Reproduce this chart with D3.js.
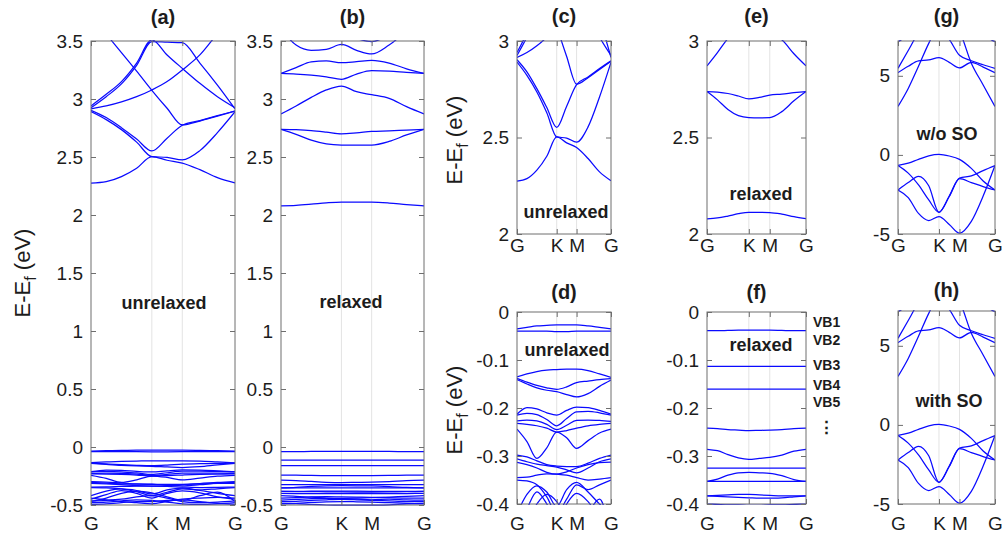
<!DOCTYPE html>
<html>
<head>
<meta charset="utf-8">
<script src="https://cdn.jsdelivr.net/npm/d3@7"></script>
<style>
  body { margin: 0; background: #fff; }
  svg { display: block; }
  text { font-family: "Liberation Sans", Arial, Helvetica, sans-serif; }
</style>
</head>
<body>
<svg id="fig" width="1004" height="540"></svg>
<script>
// k-path G-K-M-G (path length in units of 2pi/a); every band is sampled on this grid
const kPath = [0, 0.333, 0.667, 1.0, 1.333, 1.667, 2.0, 2.385, 2.770, 3.155];
const kTickPos = [0, 1.333, 2.0, 3.155];
const kTickLabels = ["G", "K", "M", "G"];

// unrelaxed structure: conduction bands (eV)
const unrelaxedCB = [
  [2.274, 2.287, 2.331, 2.403, 2.503, 2.472, 2.448, 2.391, 2.322, 2.276],
  [2.891, 2.822, 2.736, 2.628, 2.503, 2.497, 2.476, 2.555, 2.710, 2.890],
  [2.903, 2.840, 2.753, 2.655, 2.552, 2.662, 2.774, 2.814, 2.857, 2.897],
  [3.720, 3.560, 3.400, 3.240, 3.075, 2.920, 2.776, 2.810, 2.853, 2.895],
  [2.915, 2.940, 2.975, 3.020, 3.078, 3.150, 3.250, 3.380, 3.560, 3.700],
  [2.925, 3.020, 3.130, 3.290, 3.495, 3.490, 3.485, 3.310, 3.120, 2.915],
  [2.940, 3.040, 3.150, 3.310, 3.510, 3.380, 3.264, 3.135, 3.020, 2.925]
];
// unrelaxed structure: valence bands (eV)
const unrelaxedVB = [
  [-0.035, -0.032, -0.029, -0.028, -0.027, -0.027, -0.027, -0.029, -0.032, -0.035],
  [-0.040, -0.040, -0.040, -0.040, -0.041, -0.041, -0.040, -0.040, -0.040, -0.040],
  [-0.135, -0.129, -0.124, -0.121, -0.120, -0.119, -0.119, -0.122, -0.129, -0.136],
  [-0.138, -0.146, -0.153, -0.158, -0.161, -0.156, -0.147, -0.144, -0.141, -0.139],
  [-0.141, -0.150, -0.158, -0.163, -0.166, -0.172, -0.177, -0.170, -0.155, -0.142],
  [-0.213, -0.199, -0.202, -0.210, -0.215, -0.205, -0.198, -0.199, -0.205, -0.213],
  [-0.215, -0.211, -0.214, -0.224, -0.237, -0.222, -0.208, -0.207, -0.210, -0.215],
  [-0.227, -0.225, -0.227, -0.234, -0.245, -0.236, -0.226, -0.225, -0.226, -0.228],
  [-0.232, -0.234, -0.237, -0.242, -0.250, -0.247, -0.242, -0.237, -0.234, -0.232],
  [-0.244, -0.270, -0.305, -0.283, -0.250, -0.262, -0.284, -0.268, -0.252, -0.244],
  [-0.298, -0.302, -0.310, -0.318, -0.321, -0.322, -0.322, -0.315, -0.305, -0.298],
  [-0.306, -0.312, -0.317, -0.320, -0.323, -0.329, -0.335, -0.325, -0.312, -0.306],
  [-0.313, -0.318, -0.325, -0.334, -0.338, -0.333, -0.325, -0.318, -0.314, -0.313],
  [-0.345, -0.344, -0.340, -0.337, -0.338, -0.340, -0.345, -0.350, -0.348, -0.345],
  [-0.350, -0.352, -0.360, -0.385, -0.420, -0.390, -0.360, -0.370, -0.360, -0.350],
  [-0.420, -0.380, -0.362, -0.375, -0.405, -0.370, -0.355, -0.375, -0.400, -0.420],
  [-0.450, -0.410, -0.375, -0.400, -0.440, -0.400, -0.378, -0.395, -0.430, -0.450],
  [-0.470, -0.440, -0.400, -0.380, -0.395, -0.430, -0.460, -0.420, -0.390, -0.470],
  [-0.440, -0.455, -0.470, -0.480, -0.490, -0.470, -0.450, -0.440, -0.435, -0.440],
  [-0.465, -0.460, -0.450, -0.430, -0.420, -0.440, -0.470, -0.480, -0.475, -0.465],
  [-0.480, -0.475, -0.465, -0.455, -0.460, -0.475, -0.490, -0.495, -0.490, -0.480],
  [-0.495, -0.490, -0.480, -0.470, -0.470, -0.460, -0.455, -0.470, -0.485, -0.495]
];

// relaxed structure: conduction bands (eV)
const relaxedCB = [
  [2.079, 2.083, 2.093, 2.105, 2.112, 2.112, 2.111, 2.103, 2.090, 2.079],
  [2.738, 2.735, 2.728, 2.715, 2.700, 2.708, 2.720, 2.725, 2.732, 2.738],
  [2.738, 2.695, 2.645, 2.613, 2.603, 2.602, 2.603, 2.634, 2.690, 2.738],
  [2.871, 2.940, 3.014, 3.078, 3.112, 3.063, 3.037, 3.006, 2.934, 2.871],
  [3.221, 3.215, 3.205, 3.190, 3.170, 3.215, 3.244, 3.240, 3.230, 3.221],
  [3.221, 3.270, 3.320, 3.328, 3.313, 3.322, 3.333, 3.310, 3.260, 3.221],
  [3.600, 3.465, 3.420, 3.428, 3.470, 3.420, 3.388, 3.465, 3.580, 3.650],
  [3.800, 3.700, 3.650, 3.600, 3.560, 3.520, 3.495, 3.550, 3.650, 3.750]
];
// relaxed structure: valence bands (eV)
const relaxedVB = [
  [-0.039, -0.039, -0.0385, -0.038, -0.038, -0.038, -0.038, -0.0385, -0.039, -0.039],
  [-0.1135, -0.1135, -0.1135, -0.1135, -0.1135, -0.1135, -0.1135, -0.1135, -0.1135, -0.1135],
  [-0.1605, -0.1605, -0.1605, -0.1605, -0.1605, -0.1605, -0.1605, -0.1605, -0.1605, -0.1605],
  [-0.242, -0.243, -0.245, -0.246, -0.247, -0.2465, -0.246, -0.245, -0.243, -0.242],
  [-0.286, -0.289, -0.297, -0.304, -0.307, -0.305, -0.303, -0.298, -0.290, -0.286],
  [-0.325, -0.325, -0.325, -0.325, -0.325, -0.325, -0.325, -0.325, -0.325, -0.325],
  [-0.353, -0.348, -0.340, -0.335, -0.334, -0.335, -0.336, -0.341, -0.349, -0.353],
  [-0.353, -0.353, -0.353, -0.353, -0.353, -0.353, -0.353, -0.353, -0.353, -0.353],
  [-0.383, -0.382, -0.381, -0.380, -0.380, -0.381, -0.382, -0.383, -0.383, -0.383],
  [-0.383, -0.384, -0.385, -0.386, -0.387, -0.388, -0.388, -0.387, -0.385, -0.383],
  [-0.400, -0.401, -0.402, -0.402, -0.403, -0.403, -0.402, -0.402, -0.401, -0.400],
  [-0.420, -0.425, -0.433, -0.440, -0.442, -0.440, -0.437, -0.432, -0.425, -0.420],
  [-0.440, -0.436, -0.430, -0.428, -0.430, -0.432, -0.434, -0.437, -0.440, -0.440],
  [-0.457, -0.452, -0.445, -0.442, -0.445, -0.450, -0.455, -0.450, -0.455, -0.457],
  [-0.471, -0.468, -0.460, -0.455, -0.452, -0.455, -0.460, -0.465, -0.470, -0.471],
  [-0.486, -0.488, -0.495, -0.500, -0.502, -0.502, -0.502, -0.498, -0.490, -0.486],
  [-0.490, -0.485, -0.478, -0.472, -0.470, -0.472, -0.475, -0.480, -0.485, -0.490]
];

// wide-window bands without spin-orbit coupling (eV)
const bandsNoSO = [
  [3.06, 4.20, 5.60, 7.05, 8.20, 8.40, 7.80, 5.80, 4.42, 3.06],
  [5.20, 5.60, 5.95, 6.00, 6.15, 5.85, 5.50, 5.85, 5.55, 5.20],
  [5.47, 6.60, 7.70, 8.20, 8.00, 7.30, 6.30, 5.95, 5.70, 5.47],
  [7.15, 7.60, 8.30, 8.60, 8.60, 8.60, 8.60, 8.30, 7.60, 7.15],
  [-0.67, -0.52, -0.28, -0.06, 0.03, -0.07, -0.28, -0.85, -1.65, -2.22],
  [-0.67, -1.15, -1.90, -2.85, -3.63, -2.63, -1.47, -1.33, -0.99, -0.67],
  [-2.22, -1.75, -1.35, -1.95, -3.63, -2.60, -1.50, -1.75, -2.00, -2.22],
  [-2.22, -2.70, -3.70, -4.15, -3.90, -4.40, -4.95, -4.20, -2.60, -0.67]
];
// wide-window bands with spin-orbit coupling (eV)
const bandsSO = [
  [3.06, 4.20, 5.60, 7.05, 8.20, 8.40, 7.80, 5.80, 4.42, 3.06],
  [5.20, 5.60, 5.95, 6.00, 6.15, 5.85, 5.50, 5.85, 5.55, 5.20],
  [5.47, 6.60, 7.70, 8.20, 8.00, 7.30, 6.30, 5.95, 5.70, 5.47],
  [7.15, 7.60, 8.30, 8.60, 8.60, 8.60, 8.60, 8.30, 7.60, 7.15],
  [-0.67, -0.52, -0.28, -0.06, 0.03, -0.07, -0.28, -0.85, -1.65, -2.22],
  [-0.67, -1.15, -1.90, -2.85, -3.63, -2.63, -1.47, -1.33, -0.99, -0.67],
  [-2.22, -1.75, -1.35, -1.95, -3.63, -2.60, -1.50, -1.75, -2.00, -2.22],
  [-2.22, -2.70, -3.70, -4.15, -3.90, -4.40, -4.95, -4.20, -2.60, -0.67]
];

// energy tick values per window
const ticksWide = [-0.5, 0, 0.5, 1, 1.5, 2, 2.5, 3, 3.5];
const ticksCB = [2, 2.5, 3];
const ticksVB = [-0.4, -0.3, -0.2, -0.1, 0];
const ticksSO = [-5, 0, 5];

const unrelaxedAll = unrelaxedCB.concat(unrelaxedVB);
const relaxedAll = relaxedCB.concat(relaxedVB);

const panels = [
  { id: "a", x0: 91, x1: 235, y0: 41, y1: 505, dom: [-0.5, 3.5], ticks: ticksWide, bands: unrelaxedAll, titleY: 24, labY: 530 },
  { id: "b", x0: 281, x1: 424, y0: 41, y1: 505, dom: [-0.5, 3.5], ticks: ticksWide, bands: relaxedAll, titleY: 24, labY: 530 },
  { id: "c", x0: 517, x1: 611, y0: 41, y1: 234, dom: [2, 3], ticks: ticksCB, bands: unrelaxedCB, titleY: 23, labY: 252 },
  { id: "d", x0: 517, x1: 611, y0: 312, y1: 504, dom: [-0.4, 0], ticks: ticksVB, bands: unrelaxedVB, titleY: 299, labY: 530 },
  { id: "e", x0: 707, x1: 806, y0: 41, y1: 234, dom: [2, 3], ticks: ticksCB, bands: relaxedCB, titleY: 23, labY: 252 },
  { id: "f", x0: 707, x1: 806, y0: 312, y1: 504, dom: [-0.4, 0], ticks: ticksVB, bands: relaxedVB, titleY: 299, labY: 530 },
  { id: "g", x0: 898, x1: 995, y0: 41, y1: 234, dom: [-5, 7.2], ticks: ticksSO, bands: bandsNoSO, titleY: 23, labY: 252 },
  { id: "h", x0: 898, x1: 995, y0: 311, y1: 504, dom: [-5, 7.2], ticks: ticksSO, bands: bandsSO, titleY: 297, labY: 530 }
];

const svg = d3.select("#fig");
const BOX = "#6e6e6e";
const INK = "#1c1c1c";
const BAND = "#0a0aff";
const defs = svg.append("defs");

function drawPanel(p) {
  const x = d3.scaleLinear().domain([kPath[0], kPath[kPath.length - 1]]).range([p.x0, p.x1]);
  const y = d3.scaleLinear().domain(p.dom).range([p.y1, p.y0]);
  const g = svg.append("g").attr("class", "panel-" + p.id);

  defs.append("clipPath").attr("id", "clip-" + p.id)
    .append("rect")
    .attr("x", p.x0).attr("y", p.y0 - 1)
    .attr("width", p.x1 - p.x0).attr("height", p.y1 - p.y0 + 2);

  // vertical guides at the interior high-symmetry points
  g.append("g").selectAll("line")
    .data(kTickPos.slice(1, 3))
    .join("line")
    .attr("x1", d => x(d)).attr("x2", d => x(d))
    .attr("y1", p.y0).attr("y2", p.y1)
    .attr("stroke", "#e3e3e3").attr("stroke-width", 1);

  // band dispersion curves
  const line = d3.line()
    .x((d, i) => x(kPath[i]))
    .y(d => y(d))
    .curve(d3.curveMonotoneX);
  g.append("g").attr("clip-path", "url(#clip-" + p.id + ")")
    .selectAll("path")
    .data(p.bands)
    .join("path")
    .attr("d", line)
    .attr("fill", "none")
    .attr("stroke", BAND)
    .attr("stroke-width", 1.25);

  const styleAxis = sel => {
    sel.select(".domain").remove();
    sel.selectAll(".tick line").attr("stroke", BOX);
    sel.selectAll(".tick text").attr("fill", INK)
      .attr("font-size", 19)
      .attr("font-family", '"Liberation Sans", Arial, sans-serif');
  };

  g.append("g").attr("transform", `translate(${p.x0},0)`)
    .call(d3.axisLeft(y).tickValues(p.ticks).tickFormat(v => String(v))
      .tickSizeInner(-5).tickSizeOuter(0).tickPadding(8))
    .call(styleAxis);
  g.append("g").attr("transform", `translate(${p.x1},0)`)
    .call(d3.axisRight(y).tickValues(p.ticks).tickFormat("")
      .tickSizeInner(-5).tickSizeOuter(0))
    .call(styleAxis);
  g.append("g").attr("transform", `translate(0,${p.y1})`)
    .call(d3.axisBottom(x).tickValues(kTickPos).tickFormat((d, i) => kTickLabels[i])
      .tickSizeInner(-5).tickSizeOuter(0).tickPadding(p.labY - p.y1 - 13.5))
    .call(styleAxis);
  g.append("g").attr("transform", `translate(0,${p.y0})`)
    .call(d3.axisTop(x).tickValues(kTickPos).tickFormat("")
      .tickSizeInner(-5).tickSizeOuter(0))
    .call(styleAxis);

  g.append("rect")
    .attr("x", p.x0).attr("y", p.y0)
    .attr("width", p.x1 - p.x0).attr("height", p.y1 - p.y0)
    .attr("fill", "none").attr("stroke", BOX).attr("stroke-width", 1);

  g.append("text")
    .attr("x", (p.x0 + p.x1) / 2).attr("y", p.titleY)
    .attr("text-anchor", "middle")
    .attr("font-size", 20).attr("font-weight", "bold").attr("fill", INK)
    .text("(" + p.id + ")");
}

panels.forEach(drawPanel);

// axis titles
function energyLabel(cx, cy) {
  const t = svg.append("text")
    .attr("transform", `translate(${cx},${cy}) rotate(-90)`)
    .attr("text-anchor", "middle")
    .attr("font-size", 22).attr("fill", INK);
  t.append("tspan").text("E-E");
  t.append("tspan").attr("font-size", 16).attr("dy", 6).text("f");
  t.append("tspan").attr("dy", -6).text(" (eV)");
}
energyLabel(30, 273);
energyLabel(462, 140);
energyLabel(462, 410);

// panel notes
const notes = [
  { text: "unrelaxed", x: 164, y: 309 },
  { text: "relaxed", x: 351, y: 308 },
  { text: "unrelaxed", x: 566, y: 218 },
  { text: "unrelaxed", x: 567, y: 356 },
  { text: "relaxed", x: 761, y: 200 },
  { text: "relaxed", x: 761, y: 351 },
  { text: "w/o SO", x: 947, y: 140 },
  { text: "with SO", x: 949, y: 407 }
];
svg.append("g").selectAll("text").data(notes).join("text")
  .attr("x", d => d.x).attr("y", d => d.y)
  .attr("text-anchor", "middle")
  .attr("font-size", 18).attr("font-weight", "bold").attr("fill", INK)
  .text(d => d.text);

// valence-band labels beside panel (f)
const vbLabels = [
  { text: "VB1", y: 327 }, { text: "VB2", y: 345 }, { text: "VB3", y: 370 },
  { text: "VB4", y: 390 }, { text: "VB5", y: 407 }
];
svg.append("g").selectAll("text").data(vbLabels).join("text")
  .attr("x", 813).attr("y", d => d.y)
  .attr("font-size", 14).attr("font-weight", "bold").attr("fill", INK)
  .text(d => d.text);
svg.append("text").attr("x", 826.5).attr("y", 433)
  .attr("text-anchor", "middle")
  .attr("font-size", 17).attr("font-weight", "bold").attr("fill", INK)
  .attr("font-family", '"DejaVu Sans", sans-serif')
  .text("\u22EE");
</script>
</body>
</html>
